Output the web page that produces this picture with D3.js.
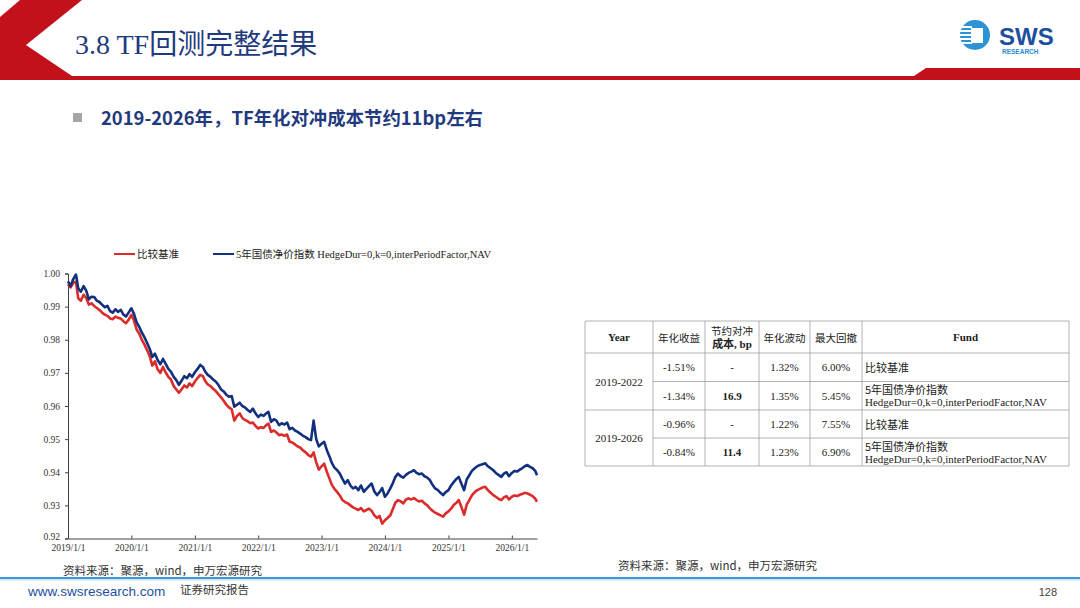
<!DOCTYPE html>
<html>
<head>
<meta charset="utf-8">
<script src="https://cdn.jsdelivr.net/npm/d3@7"></script>
<style>
  body { margin: 0; background: #fff; }
  svg { display: block; }
</style>
</head>
<body>
<svg id="page" width="1080" height="608"></svg>
<script>
// dates of the two NAV series (semi-monthly readings)
var dates = [
  "2019-01-01","2019-01-16","2019-02-01","2019-02-16","2019-03-01","2019-03-16","2019-04-01","2019-04-16","2019-05-01","2019-05-16","2019-06-01","2019-06-16","2019-07-01","2019-07-16","2019-08-01","2019-08-16","2019-09-01","2019-09-16","2019-10-01","2019-10-16","2019-11-01","2019-11-16","2019-12-01","2019-12-16",
  "2020-01-01","2020-01-16","2020-02-01","2020-02-16","2020-03-01","2020-03-16","2020-04-01","2020-04-16","2020-05-01","2020-05-16","2020-06-01","2020-06-16","2020-07-01","2020-07-16","2020-08-01","2020-08-16","2020-09-01","2020-09-16","2020-10-01","2020-10-16","2020-11-01","2020-11-16","2020-12-01","2020-12-16",
  "2021-01-01","2021-01-16","2021-02-01","2021-02-16","2021-03-01","2021-03-16","2021-04-01","2021-04-16","2021-05-01","2021-05-16","2021-06-01","2021-06-16","2021-07-01","2021-07-16","2021-08-01","2021-08-16","2021-09-01","2021-09-16","2021-10-01","2021-10-16","2021-11-01","2021-11-16","2021-12-01","2021-12-16",
  "2022-01-01","2022-01-16","2022-02-01","2022-02-16","2022-03-01","2022-03-16","2022-04-01","2022-04-16","2022-05-01","2022-05-16","2022-06-01","2022-06-16","2022-07-01","2022-07-16","2022-08-01","2022-08-16","2022-09-01","2022-09-16","2022-10-01","2022-10-16","2022-11-01","2022-11-16","2022-12-01","2022-12-16",
  "2023-01-01","2023-01-16","2023-02-01","2023-02-16","2023-03-01","2023-03-16","2023-04-01","2023-04-16","2023-05-01","2023-05-16","2023-06-01","2023-06-16","2023-07-01","2023-07-16","2023-08-01","2023-08-16","2023-09-01","2023-09-16","2023-10-01","2023-10-16","2023-11-01","2023-11-16","2023-12-01","2023-12-16",
  "2024-01-01","2024-01-16","2024-02-01","2024-02-16","2024-03-01","2024-03-16","2024-04-01","2024-04-16","2024-05-01","2024-05-16","2024-06-01","2024-06-16","2024-07-01","2024-07-16","2024-08-01","2024-08-16","2024-09-01","2024-09-16","2024-10-01","2024-10-16","2024-11-01","2024-11-16","2024-12-01","2024-12-16",
  "2025-01-01","2025-01-16","2025-02-01","2025-02-16","2025-03-01","2025-03-16","2025-04-01","2025-04-16","2025-05-01","2025-05-16","2025-06-01","2025-06-16","2025-07-01","2025-07-16","2025-08-01","2025-08-16","2025-09-01","2025-09-16","2025-10-01","2025-10-16","2025-11-01","2025-11-16","2025-12-01","2025-12-16",
  "2026-01-01","2026-01-16","2026-02-01","2026-02-16","2026-03-01","2026-03-16","2026-04-01","2026-04-16","2026-05-01","2026-05-16","2026-05-26"
];

// 比较基准
var benchmark = [
  0.9968,0.9958,0.9972,0.9975,0.9925,0.9918,0.9936,0.9926,0.9906,0.9910,0.9902,0.9896,0.9890,0.9882,0.9876,0.9872,0.9864,0.9862,0.9870,0.9866,0.9864,0.9856,0.9850,0.9860,
  0.9875,0.9858,0.9830,0.9818,0.9800,0.9786,0.9768,0.9750,0.9722,0.9735,0.9710,0.9700,0.9718,0.9702,0.9688,0.9680,0.9660,0.9650,0.9640,0.9650,0.9662,0.9656,0.9668,0.9660,
  0.9674,0.9684,0.9694,0.9690,0.9676,0.9665,0.9660,0.9652,0.9645,0.9636,0.9626,0.9616,0.9604,0.9596,0.9590,0.9556,0.9570,0.9578,0.9564,0.9558,0.9554,0.9548,0.9550,0.9540,
  0.9532,0.9536,0.9534,0.9542,0.9547,0.9522,0.9526,0.9520,0.9512,0.9514,0.9510,0.9514,0.9492,0.9490,0.9484,0.9478,0.9474,0.9466,0.9460,0.9452,0.9447,0.9460,0.9430,0.9408,
  0.9418,0.9426,0.9400,0.9380,0.9362,0.9350,0.9340,0.9330,0.9316,0.9310,0.9306,0.9300,0.9294,0.9290,0.9286,0.9292,0.9282,0.9286,0.9290,0.9284,0.9270,0.9262,0.9268,0.9245,
  0.9255,0.9262,0.9270,0.9290,0.9308,0.9316,0.9312,0.9306,0.9318,0.9321,0.9318,0.9322,0.9316,0.9312,0.9314,0.9306,0.9300,0.9291,0.9284,0.9278,0.9274,0.9270,0.9266,0.9276,
  0.9282,0.9290,0.9302,0.9308,0.9316,0.9296,0.9272,0.9302,0.9316,0.9330,0.9340,0.9346,0.9350,0.9354,0.9356,0.9346,0.9338,0.9331,0.9326,0.9320,0.9316,0.9324,0.9328,0.9318,
  0.9326,0.9330,0.9328,0.9332,0.9334,0.9338,0.9336,0.9332,0.9328,0.9320,0.9311
];

// 5年国债净价指数 HedgeDur=0,k=0,interPeriodFactor,NAV
var hedged = [
  0.9976,0.9962,0.9984,0.9997,0.9955,0.9945,0.9962,0.9948,0.9922,0.9930,0.9929,0.9918,0.9914,0.9906,0.9898,0.9902,0.9886,0.9882,0.9892,0.9884,0.9890,0.9876,0.9870,0.9882,
  0.9895,0.9878,0.9852,0.9838,0.9822,0.9808,0.9790,0.9772,0.9748,0.9758,0.9738,0.9726,0.9742,0.9728,0.9712,0.9704,0.9688,0.9678,0.9664,0.9676,0.9690,0.9684,0.9696,0.9688,
  0.9702,0.9712,0.9724,0.9718,0.9704,0.9694,0.9688,0.9680,0.9674,0.9664,0.9650,0.9644,0.9634,0.9628,0.9630,0.9598,0.9604,0.9610,0.9600,0.9596,0.9588,0.9582,0.9592,0.9578,
  0.9567,0.9574,0.9570,0.9578,0.9582,0.9552,0.9560,0.9556,0.9542,0.9548,0.9544,0.9550,0.9530,0.9534,0.9526,0.9522,0.9516,0.9510,0.9506,0.9500,0.9497,0.9556,0.9500,0.9478,
  0.9486,0.9492,0.9466,0.9447,0.9428,0.9414,0.9406,0.9396,0.9380,0.9366,0.9376,0.9360,0.9351,0.9356,0.9346,0.9360,0.9341,0.9350,0.9358,0.9366,0.9342,0.9331,0.9340,0.9352,
  0.9326,0.9336,0.9351,0.9368,0.9386,0.9396,0.9388,0.9384,0.9392,0.9398,0.9402,0.9406,0.9398,0.9394,0.9396,0.9388,0.9384,0.9376,0.9362,0.9351,0.9346,0.9338,0.9331,0.9340,
  0.9346,0.9360,0.9371,0.9380,0.9386,0.9366,0.9346,0.9378,0.9391,0.9404,0.9412,0.9418,0.9422,0.9424,0.9427,0.9418,0.9412,0.9406,0.9398,0.9392,0.9386,0.9396,0.9400,0.9388,
  0.9398,0.9404,0.9402,0.9408,0.9412,0.9418,0.9422,0.9416,0.9412,0.9404,0.9391
];

var seriesNames = ["比较基准", "5年国债净价指数 HedgeDur=0,k=0,interPeriodFactor,NAV"];
var seriesColors = ["#dc2b2b", "#13307f"];
var yTicks = [0.92, 0.93, 0.94, 0.95, 0.96, 0.97, 0.98, 0.99, 1.00];
var xTickDates = ["2019-01-01","2020-01-01","2021-01-01","2022-01-01","2023-01-01","2024-01-01","2025-01-01","2026-01-01"];
var xTickLabels = ["2019/1/1","2020/1/1","2021/1/1","2022/1/1","2023/1/1","2024/1/1","2025/1/1","2026/1/1"];

// table
var tableHeader = ["Year", "年化收益", ["节约对冲", "成本, bp"], "年化波动", "最大回撤", "Fund"];
var tablePeriods = ["2019-2022", "2019-2026"];
var tableReturn = ["-1.51%", "-1.34%", "-0.96%", "-0.84%"];
var tableSaving = ["-", "16.9", "-", "11.4"];
var tableVol = ["1.32%", "1.35%", "1.22%", "1.23%"];
var tableDrawdown = ["6.00%", "5.45%", "7.55%", "6.90%"];
var tableFund = [["比较基准"], ["5年国债净价指数", "HedgeDur=0,k=0,interPeriodFactor,NAV"], ["比较基准"], ["5年国债净价指数", "HedgeDur=0,k=0,interPeriodFactor,NAV"]];

var serif = "'Times New Roman','Liberation Serif','Noto Sans CJK SC',serif";
var sans = "'Noto Sans CJK SC','Noto Sans',sans-serif";
var navy = "#1f3a7d";

var svg = d3.select("#page");
svg.append("rect").attr("width", 1080).attr("height", 608).attr("fill", "#fff");

// ---- header ----
svg.append("polygon")
  .attr("points", "20,0 82,0 26,45 72,76 914,76 926,68 1080,68 1080,80 0,80 0,17")
  .attr("fill", "#c3111b");

svg.append("text")
  .attr("x", 75).attr("y", 54)
  .attr("font-family", serif).attr("font-size", 28)
  .attr("fill", navy)
  .text("3.8 TF回测完整结果");

// logo
var logo = svg.append("g");
logo.append("circle").attr("cx", 975).attr("cy", 35).attr("r", 15).attr("fill", "#2b93d6");
[26, 30, 34, 38, 42].forEach(function (y) {
  logo.append("rect").attr("x", 959).attr("y", y).attr("width", 13).attr("height", 2).attr("fill", "#fff");
});
logo.append("rect").attr("x", 971).attr("y", 28).attr("width", 12).attr("height", 15).attr("fill", "#fff");
logo.append("text").attr("x", 999).attr("y", 45)
  .attr("font-family", "'Liberation Sans','DejaVu Sans',sans-serif").attr("font-weight", "bold")
  .attr("font-size", 24).attr("fill", "#1d4f9e").text("SWS");
logo.append("text").attr("x", 1002).attr("y", 54)
  .attr("font-family", "'Liberation Sans',sans-serif").attr("font-weight", "bold")
  .attr("font-size", 6.5).attr("fill", "#2b8ad0").text("RESEARCH");

// subtitle
svg.append("rect").attr("x", 73).attr("y", 113).attr("width", 9).attr("height", 9).attr("fill", "#a6a6a6");
svg.append("text")
  .attr("x", 101).attr("y", 125)
  .attr("font-family", sans).attr("font-weight", "bold").attr("font-size", 18.4)
  .attr("fill", navy)
  .text("2019-2026年，TF年化对冲成本节约11bp左右");

// ---- line chart ----
var parse = d3.timeParse("%Y-%m-%d");
var xDates = dates.map(parse);

var x = d3.scaleTime()
  .domain([xDates[0], xDates[xDates.length - 1]])
  .range([68, 537]);
var y = d3.scaleLinear().domain([0.92, 1.0]).range([538.5, 273.5]);

var yAxis = d3.axisLeft(y).tickValues(yTicks).tickFormat(d3.format(".2f")).tickSize(3).tickPadding(5);
var gy = svg.append("g").attr("transform", "translate(68,0)").call(yAxis);
gy.select(".domain").attr("stroke", "#404040");
gy.selectAll(".tick line").attr("stroke", "#404040");
gy.selectAll("text").attr("font-family", serif).attr("font-size", 9.5).attr("fill", "#333");
gy.selectAll(".tick text").filter(function (d) { return d === 0.92; }).attr("dy", "0.1em");

var xAxis = d3.axisBottom(x)
  .tickValues(xTickDates.map(parse))
  .tickFormat(function (d, i) { return xTickLabels[i]; })
  .tickSizeInner(-3).tickSizeOuter(0).tickPadding(6);
var gx = svg.append("g").attr("transform", "translate(0,538.5)").call(xAxis);
gx.select(".domain").attr("stroke", "#404040");
gx.selectAll(".tick line").attr("stroke", "#404040");
gx.selectAll("text").attr("font-family", serif).attr("font-size", 9.5).attr("fill", "#333");

var line = d3.line()
  .x(function (d, i) { return x(xDates[i]); })
  .y(function (d) { return y(d); });

[benchmark, hedged].forEach(function (vals, k) {
  svg.append("path")
    .datum(vals)
    .attr("d", line)
    .attr("fill", "none")
    .attr("stroke", seriesColors[k])
    .attr("stroke-width", 2.6)
    .attr("stroke-linejoin", "round");
});

// legend
var legendX = [114, 213];
seriesNames.forEach(function (name, k) {
  svg.append("line")
    .attr("x1", legendX[k]).attr("x2", legendX[k] + 21)
    .attr("y1", 254).attr("y2", 254)
    .attr("stroke", seriesColors[k]).attr("stroke-width", 2);
  svg.append("text")
    .attr("x", legendX[k] + 23).attr("y", 258)
    .attr("font-family", serif).attr("font-size", 10.5).attr("fill", "#222")
    .text(name);
});

// ---- table ----
var colX = [585, 653, 705, 759, 810, 862, 1069];
var rowY = [321, 353, 381.5, 410, 438, 466];
var tb = svg.append("g");
var border = "#a0a0a0";

function cellText(txt, cx, cy, opts) {
  opts = opts || {};
  tb.append("text")
    .attr("x", cx).attr("y", cy)
    .attr("text-anchor", opts.anchor || "middle")
    .attr("dominant-baseline", "central")
    .attr("font-family", opts.font || serif)
    .attr("font-size", opts.size || 11)
    .attr("font-weight", opts.bold ? "bold" : "normal")
    .attr("fill", "#222")
    .text(txt);
}

// outer frame and column lines
colX.forEach(function (cx) {
  tb.append("line").attr("x1", cx).attr("x2", cx).attr("y1", rowY[0]).attr("y2", rowY[5])
    .attr("stroke", border).attr("stroke-width", 0.8);
});
rowY.forEach(function (ry, i) {
  var x0 = (i === 2 || i === 4) ? colX[1] : colX[0];
  tb.append("line").attr("x1", x0).attr("x2", colX[6]).attr("y1", ry).attr("y2", ry)
    .attr("stroke", border).attr("stroke-width", 0.8);
});

// header
tableHeader.forEach(function (h, c) {
  var cx = (colX[c] + colX[c + 1]) / 2;
  var cy = (rowY[0] + rowY[1]) / 2;
  if (Array.isArray(h)) {
    cellText(h[0], cx, cy - 7, { font: sans, size: 10.5 });
    cellText(h[1], cx, cy + 7, { font: serif, size: 11, bold: true });
  } else if (c === 0 || c === 5) {
    cellText(h, cx, cy, { bold: true });
  } else {
    cellText(h, cx, cy, { font: sans, size: 10.5 });
  }
});

// merged period cells
tablePeriods.forEach(function (p, j) {
  cellText(p, (colX[0] + colX[1]) / 2, (rowY[1 + 2 * j] + rowY[3 + 2 * j]) / 2);
});

// body rows
for (var r = 0; r < 4; r++) {
  var cy = (rowY[r + 1] + rowY[r + 2]) / 2;
  cellText(tableReturn[r], (colX[1] + colX[2]) / 2, cy);
  cellText(tableSaving[r], (colX[2] + colX[3]) / 2, cy, { bold: tableSaving[r] !== "-" });
  cellText(tableVol[r], (colX[3] + colX[4]) / 2, cy);
  cellText(tableDrawdown[r], (colX[4] + colX[5]) / 2, cy);
  var f = tableFund[r];
  if (f.length === 1) {
    cellText(f[0], colX[5] + 3, cy, { anchor: "start", font: sans, size: 11 });
  } else {
    cellText(f[0], colX[5] + 3, cy - 6.5, { anchor: "start", font: sans, size: 11 });
    cellText(f[1], colX[5] + 3, cy + 6.5, { anchor: "start", size: 11 });
  }
}

// ---- sources & footer ----
svg.append("text").attr("x", 63).attr("y", 575)
  .attr("font-family", sans).attr("font-size", 11.5).attr("fill", "#333")
  .text("资料来源：聚源，wind，申万宏源研究");
svg.append("text").attr("x", 618).attr("y", 570)
  .attr("font-family", sans).attr("font-size", 11.5).attr("fill", "#333")
  .text("资料来源：聚源，wind，申万宏源研究");

svg.append("rect").attr("x", 0).attr("y", 577).attr("width", 1080).attr("height", 2).attr("fill", "#3d9ad6");
svg.append("rect").attr("x", 0).attr("y", 579).attr("width", 1080).attr("height", 1.5).attr("fill", "#c9e3f4");

svg.append("text").attr("x", 28).attr("y", 596)
  .attr("font-family", "'Liberation Sans Narrow','Liberation Sans',sans-serif").attr("font-size", 13.5).attr("fill", "#1d4f9e")
  .text("www.swsresearch.com");
svg.append("text").attr("x", 180).attr("y", 594)
  .attr("font-family", sans).attr("font-size", 11.5).attr("fill", "#333")
  .text("证券研究报告");
svg.append("text").attr("x", 1057).attr("y", 596).attr("text-anchor", "end")
  .attr("font-family", "'Liberation Sans',sans-serif").attr("font-size", 11).attr("fill", "#444")
  .text("128");
</script>
</body>
</html>
